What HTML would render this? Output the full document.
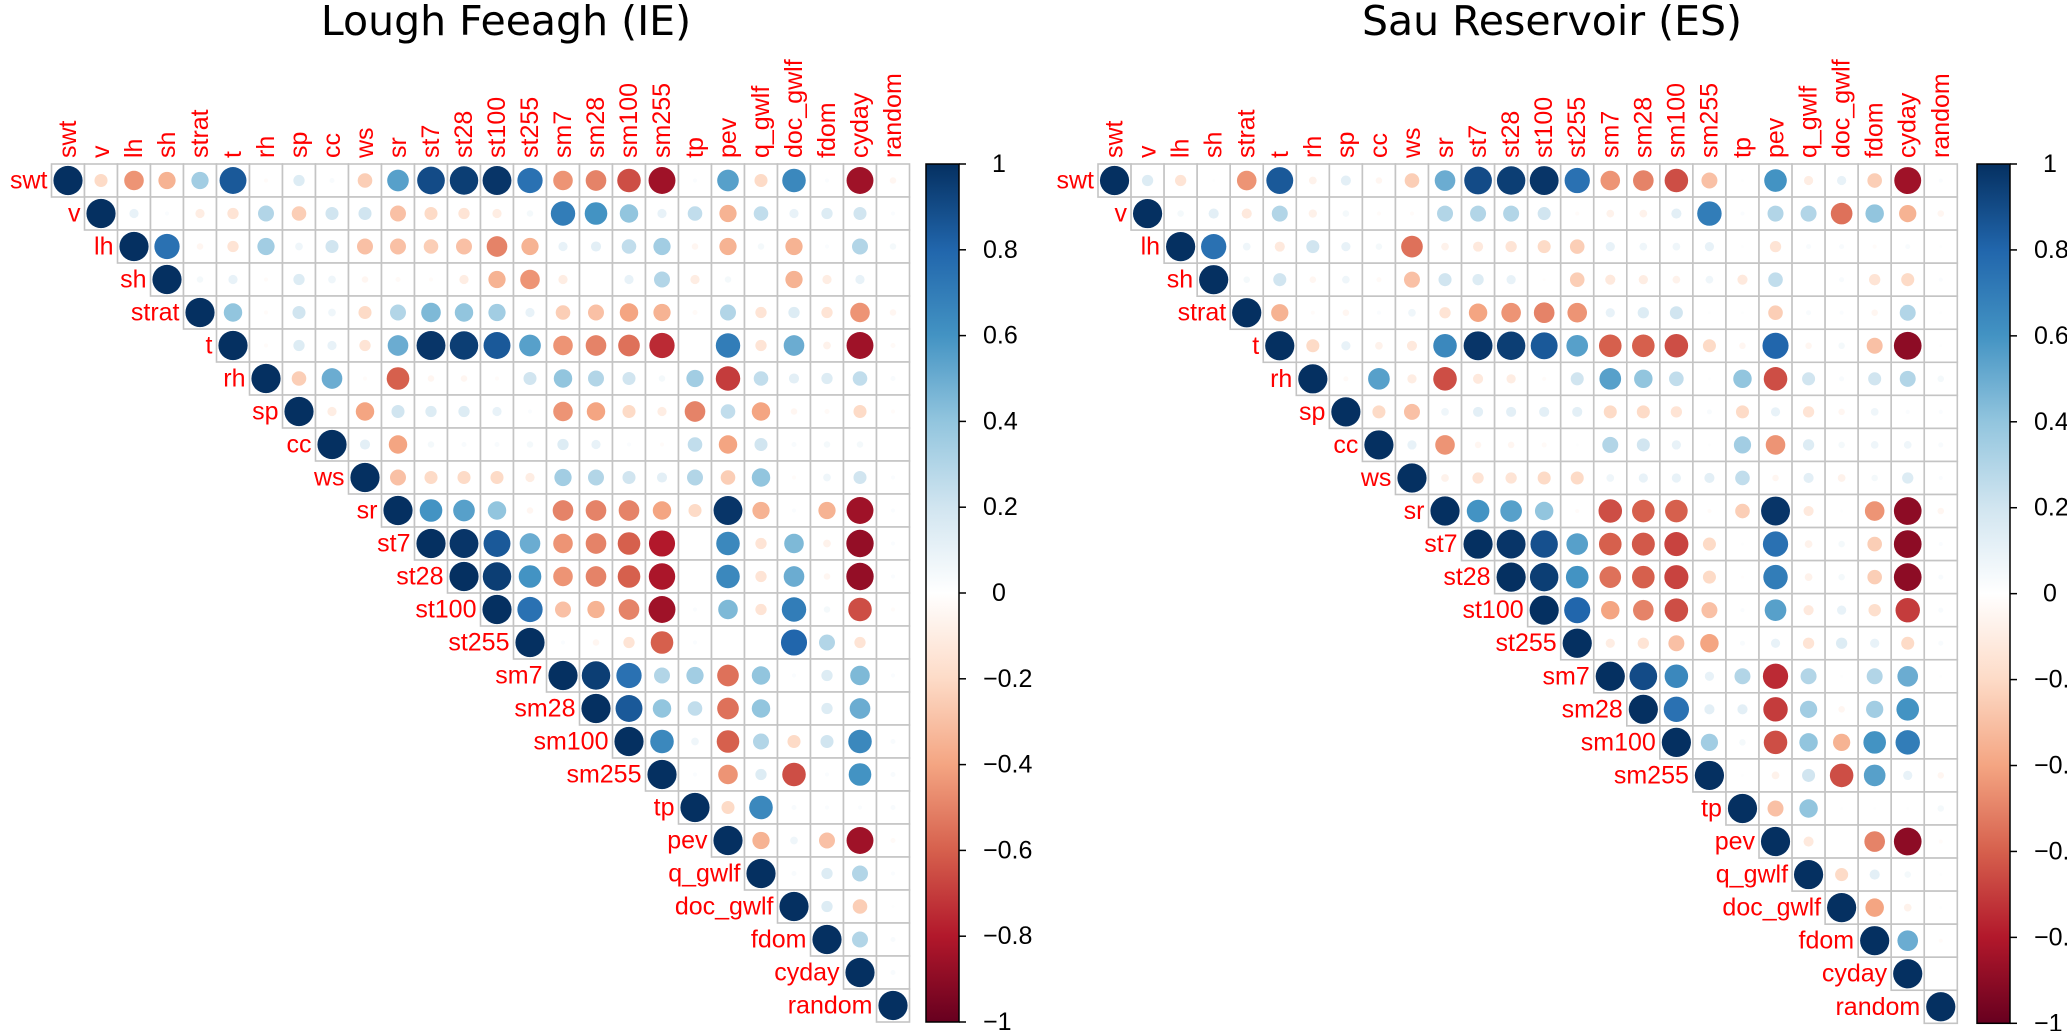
<!DOCTYPE html>
<html><head><meta charset="utf-8"><style>
html,body{margin:0;padding:0;background:#fff;}
svg{display:block;}
</style></head><body>
<svg id="chart" width="2067" height="1031" viewBox="0 0 2067 1031" xmlns="http://www.w3.org/2000/svg">
<defs>
<linearGradient id="cbar" x1="0" y1="1" x2="0" y2="0">
<stop offset="0" stop-color="#67001F"/><stop offset="0.1" stop-color="#B2182B"/><stop offset="0.2" stop-color="#D6604D"/><stop offset="0.3" stop-color="#F4A582"/><stop offset="0.4" stop-color="#FDDBC7"/><stop offset="0.5" stop-color="#FFFFFF"/><stop offset="0.6" stop-color="#D1E5F0"/><stop offset="0.7" stop-color="#92C5DE"/><stop offset="0.8" stop-color="#4393C3"/><stop offset="0.9" stop-color="#2166AC"/><stop offset="1" stop-color="#053061"/>
</linearGradient>
</defs>
<text x="506" y="35" font-family="DejaVu Sans, sans-serif" font-size="41" text-anchor="middle" fill="#000">Lough Feeagh (IE)</text>
<text x="1552" y="35" font-family="DejaVu Sans, sans-serif" font-size="41" text-anchor="middle" fill="#000">Sau Reservoir (ES)</text>
</svg>
<script>
const variables = ["swt","v","lh","sh","strat","t","rh","sp","cc","ws","sr","st7","st28","st100","st255","sm7","sm28","sm100","sm255","tp","pev","q_gwlf","doc_gwlf","fdom","cyday","random"];
const colorbarTicks = [1,0.8,0.6,0.4,0.2,0,-0.2,-0.4,-0.6,-0.8,-1];
const colorbarTickLabels = ["1","0.8","0.6","0.4","0.2","0","\u22120.2","\u22120.4","\u22120.6","\u22120.8","\u22121"];
const feeaghUpper = [
[-0.2,-0.45,-0.35,0.35,0.85,-0.02,0.15,0.03,-0.25,0.55,0.9,0.95,0.98,0.75,-0.45,-0.5,-0.65,-0.85,0.02,0.55,-0.2,0.65,0.02,-0.85,-0.05],
[0.1,0.02,-0.1,-0.15,0.3,-0.25,0.2,0.2,-0.3,-0.2,-0.15,-0.1,0.05,0.7,0.6,0.4,0.1,0.25,-0.35,0.25,0.1,0.15,0.2,0.02],
[0.75,-0.05,-0.15,0.35,0.07,0.2,-0.3,-0.3,-0.25,-0.3,-0.5,-0.35,0.1,0.12,0.25,0.35,-0.05,-0.35,0.05,-0.35,0.02,0.3,0.05],
[0.05,0.1,-0.02,0.15,0.07,-0.05,-0.03,-0.02,-0.1,-0.35,-0.45,-0.1,0,0.1,0.3,-0.1,0.05,0,-0.35,-0.1,0.1,0],
[0.4,-0.02,0.2,0.07,-0.2,0.3,0.45,0.4,0.35,0.1,-0.25,-0.3,-0.4,-0.35,-0.03,0.3,-0.15,0.15,-0.15,-0.45,-0.05],
[-0.02,0.15,0.1,-0.15,0.5,0.98,0.95,0.85,0.55,-0.45,-0.5,-0.55,-0.75,0,0.7,-0.15,0.5,-0.07,-0.85,-0.03],
[-0.25,0.5,-0.02,-0.6,-0.05,-0.05,-0.02,0.2,0.4,0.3,0.2,0.05,0.35,-0.7,0.25,0.12,0.15,0.25,0.03],
[-0.1,-0.4,0.2,0.15,0.15,0.1,0.02,-0.45,-0.4,-0.2,-0.1,-0.5,0.25,-0.4,-0.05,-0.03,-0.2,-0.02],
[0.12,-0.4,0.05,0.03,0.03,0.05,0.15,0.1,0.02,-0.02,0.25,-0.4,0.2,0.03,0.05,0.05,0],
[-0.3,-0.2,-0.2,-0.2,-0.1,0.35,0.3,0.2,0.12,0.3,-0.25,0.4,-0.02,0.07,0.2,0.02],
[0.6,0.55,0.4,-0.05,-0.5,-0.5,-0.5,-0.4,-0.2,0.98,-0.35,0.02,-0.35,-0.85,0.02],
[0.98,0.85,0.5,-0.45,-0.5,-0.6,-0.8,0,0.65,-0.15,0.45,-0.07,-0.88,0.02],
[0.95,0.6,-0.45,-0.5,-0.6,-0.82,0,0.65,-0.15,0.5,-0.05,-0.88,0.02],
[0.75,-0.3,-0.35,-0.5,-0.85,0.02,0.45,-0.15,0.7,0.05,-0.65,-0.02],
[0.02,-0.05,-0.15,-0.6,0.02,0,0,0.8,0.3,-0.15,0],
[0.95,0.75,0.3,0.35,-0.55,0.4,0.02,0.15,0.45,0.02],
[0.85,0.4,0.25,-0.55,0.4,0,0.15,0.5,0],
[0.65,0.07,-0.6,0.3,-0.2,0.2,0.65,0.03],
[0.02,-0.45,0.15,-0.65,0.02,0.6,0.03],
[-0.2,0.65,0.03,0.02,0.02,0.03],
[-0.35,0.07,-0.3,-0.85,-0.03],
[0.03,0.15,0.3,0.02],
[0.15,-0.25,0.01],
[0.3,0.03],
[0.03]
];
const sauUpper = [
[0.15,-0.15,0.01,-0.45,0.85,-0.07,0.12,-0.05,-0.25,0.5,0.9,0.95,0.98,0.75,-0.45,-0.5,-0.65,-0.3,0.01,0.6,-0.1,0.1,-0.25,-0.85,0.02],
[0.05,0.12,-0.12,0.3,-0.08,0.05,-0.02,-0.02,0.3,0.3,0.3,0.2,-0.02,-0.07,-0.07,0.12,0.7,0.02,0.3,0.3,-0.55,0.4,-0.35,-0.05],
[0.75,0.07,-0.12,0.2,0.1,0.05,-0.55,-0.07,-0.12,-0.15,-0.2,-0.25,0.1,0.07,0.07,0.1,0.01,-0.15,0.03,0.03,-0.02,0.03,0.01],
[0.05,0.2,-0.05,0.07,-0.03,-0.3,0.2,0.15,0.1,-0.01,-0.25,-0.12,-0.1,-0.07,0.07,-0.12,0.25,0,0.03,-0.15,-0.2,0.02],
[-0.35,-0.02,-0.05,0.02,0.07,-0.15,-0.4,-0.45,-0.5,-0.45,0.1,0.15,0.2,0.01,0.01,-0.25,0.03,0.02,-0.05,0.3,0.01],
[-0.2,0.1,-0.07,-0.12,0.65,0.98,0.95,0.85,0.55,-0.6,-0.6,-0.65,-0.2,-0.05,0.8,-0.05,0.05,-0.3,-0.9,0.01],
[-0.03,0.55,-0.1,-0.65,-0.12,-0.1,-0.02,0.2,0.55,0.4,0.25,0.01,0.4,-0.65,0.2,0.03,0.2,0.3,0.05],
[-0.2,-0.3,0.07,0.12,0.12,0.12,0.12,-0.2,-0.2,-0.15,0.03,-0.2,0.1,-0.15,-0.05,0.07,0.02,0.02],
[0.1,-0.45,-0.05,-0.05,-0.03,0.01,0.3,0.2,0.1,0.01,0.35,-0.45,0.15,0.05,0.07,0.07,0.03],
[-0.07,-0.15,-0.15,-0.2,-0.2,0.07,0.1,0.1,0.12,0.25,-0.05,0.12,-0.07,0.05,0.15,0.02],
[0.6,0.55,0.4,-0.02,-0.65,-0.6,-0.6,-0.02,-0.25,0.98,-0.12,0.01,-0.45,-0.9,-0.05],
[0.98,0.88,0.55,-0.6,-0.62,-0.68,-0.2,0.01,0.75,-0.07,0.05,-0.25,-0.9,0.02],
[0.95,0.6,-0.55,-0.6,-0.68,-0.2,-0.01,0.7,-0.07,0.05,-0.25,-0.9,0.03],
[0.8,-0.4,-0.5,-0.65,-0.3,0.02,0.55,-0.12,0.1,-0.18,-0.7,0.03],
[-0.1,-0.15,-0.3,-0.4,0.03,0.1,-0.15,0.15,0.1,-0.2,0.03],
[0.9,0.65,0.1,0.3,-0.75,0.3,0.01,0.3,0.5,0.01],
[0.75,0.12,0.12,-0.7,0.35,-0.05,0.35,0.6,0],
[0.35,0.05,-0.65,0.4,-0.35,0.6,0.7,0],
[0.01,-0.07,0.2,-0.65,0.55,0.1,-0.05],
[-0.3,0.4,0.01,0.01,0.01,0.05],
[-0.12,0,-0.5,-0.9,-0.02],
[-0.2,0.12,0.05,0.01],
[-0.4,-0.07,0.01],
[0.5,-0.02],
[0]
];

const NS = "http://www.w3.org/2000/svg";
const svg = document.getElementById("chart");
const stops = ["#67001F","#B2182B","#D6604D","#F4A582","#FDDBC7","#FFFFFF","#D1E5F0","#92C5DE","#4393C3","#2166AC","#053061"];
function hex(h){return [parseInt(h.substr(1,2),16),parseInt(h.substr(3,2),16),parseInt(h.substr(5,2),16)];}
function colorOf(v){
  const t = (Math.max(-1,Math.min(1,v))+1)/2*10;
  const i = Math.min(9,Math.floor(t)); const f = t-i;
  const a = hex(stops[i]), b = hex(stops[i+1]);
  return "rgb("+a.map((c,k)=>Math.round(c+(b[k]-c)*f)).join(",")+")";
}
function mk(tag, attrs, parent){
  const e = document.createElementNS(NS, tag);
  for (const k in attrs) e.setAttribute(k, attrs[k]);
  (parent||svg).appendChild(e);
  return e;
}

function drawPanel(upper, gridLeft, gridTop, cell, cbLeft, key){
  const g = mk("g", {});
  
  
  const n = variables.length;
  const xOf = j => gridLeft + j*cell;
  const yOf = i => gridTop + i*cell;
  const rOf = v => 14.6*Math.sqrt(Math.abs(v));
  // cells
  for (let i=0;i<n;i++){
    for (let j=i;j<n;j++){
      const r = mk("rect", {x:xOf(j), y:yOf(i), width:cell, height:cell, fill:"#fff", stroke:"#c4c4c4", "stroke-width":1.6}, g);
      
      
    }
  }
  // circles
  for (let i=0;i<n;i++){
    for (let j=i;j<n;j++){
      const v = (j===i) ? 1 : upper[i][j-i-1];
      const c = mk("circle", {cx:xOf(j)+cell/2, cy:yOf(i)+cell/2, r:rOf(v), fill:colorOf(v)}, g);
      
      
    }
  }
  // labels
  for (let k=0;k<n;k++){
    const rl = mk("text", {x:xOf(k)-4, y:yOf(k)+cell/2, "text-anchor":"end", "dominant-baseline":"central", fill:"#FF0000", "font-family":"Liberation Sans, sans-serif", "font-size":25}, g);
    rl.textContent = variables[k];
    
    
    const cx = xOf(k)+cell/2, cy = gridTop-6;
    const cl = mk("text", {x:cx, y:cy, transform:"rotate(-90 "+cx+" "+cy+")", "text-anchor":"start", "dominant-baseline":"central", fill:"#FF0000", "font-family":"Liberation Sans, sans-serif", "font-size":25}, g);
    cl.textContent = variables[k];
    
    
  }
  // colorbar
  const cbTop = gridTop, cbBot = gridTop + n*cell, cbW = 33;
  const cb = mk("rect", {x:cbLeft, y:cbTop, width:cbW, height:cbBot-cbTop, fill:"url(#cbar)", stroke:"#000", "stroke-width":1.5}, g);
  
  
  const yScale = v => cbTop + (1-v)/2*(cbBot-cbTop);
  colorbarTicks.forEach((v,idx)=>{
    const y = yScale(v);
    const tk = mk("line", {x1:cbLeft+cbW, x2:cbLeft+cbW+7, y1:y, y2:y, stroke:"#000", "stroke-width":1.5}, g);
    
    
    const lbl = colorbarTickLabels[idx];
    const short = lbl.length===1;
    const tl = mk("text", {x: short ? cbLeft+cbW+40 : cbLeft+cbW+24, y:y, "text-anchor": short ? "middle":"start", "dominant-baseline":"central", fill:"#000", "font-family":"Liberation Sans, sans-serif", "font-size":25}, g);
    tl.textContent = lbl;
    
    
  });
}
drawPanel(feeaghUpper, 51.5, 164, 33.0, 926, "lough-feeagh");
drawPanel(sauUpper, 1098, 164, 33.05, 1977, "sau-reservoir");
</script>
</body></html>
